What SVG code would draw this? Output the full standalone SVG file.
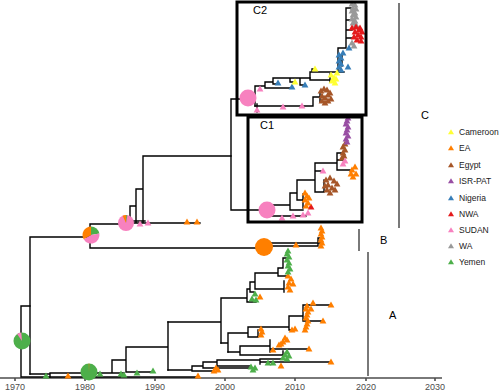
<svg xmlns="http://www.w3.org/2000/svg" xmlns:xlink="http://www.w3.org/1999/xlink" width="500" height="391" viewBox="0 0 500 391">
<style>
.br{fill:none;stroke:#000;stroke-width:1.4;stroke-linecap:square}
.box{fill:none;stroke:#000;stroke-width:3}
.bar{stroke:#4d4d4d;stroke-width:1.5}
.ax{stroke:#4d4d4d;stroke-width:1.6}
.tk{font-family:"Liberation Sans",Arial,sans-serif;font-size:9px;fill:#4d4d4d;text-anchor:middle}
.lb{font-family:"Liberation Sans",Arial,sans-serif;font-size:11px;fill:#000}
.lg{font-family:"Liberation Sans",Arial,sans-serif;font-size:8.5px;fill:#1a1a1a}
.cm{fill:#FFFF33}.ea{fill:#FF7F00}.eg{fill:#A65628}.ip{fill:#984EA3}.ng{fill:#377EB8}
.nw{fill:#E41A1C}.sd{fill:#F781BF}.wa{fill:#999999}.ye{fill:#4DAF4A}
</style>
<defs>
<path id="t" d="M0,-3.4 L3.4,2.5 L-3.4,2.5 Z"/>
<path id="tl" d="M0,-2.8 L3,2.2 L-3,2.2 Z"/>
</defs>

<!-- axis -->
<g id="axis">
<line class="ax" x1="0" y1="378" x2="442" y2="378"/>
<g class="ax">
<line x1="15" y1="378" x2="15" y2="381"/><line x1="85" y1="378" x2="85" y2="381"/>
<line x1="155" y1="378" x2="155" y2="381"/><line x1="225" y1="378" x2="225" y2="381"/>
<line x1="295" y1="378" x2="295" y2="381"/><line x1="366" y1="378" x2="366" y2="381"/>
<line x1="435" y1="378" x2="435" y2="381"/>
</g>
<text class="tk" x="15" y="390">1970</text><text class="tk" x="85" y="390">1980</text>
<text class="tk" x="155" y="390">1990</text><text class="tk" x="225" y="390">2000</text>
<text class="tk" x="295" y="390">2010</text><text class="tk" x="366" y="390">2020</text>
<text class="tk" x="435" y="390">2030</text>
</g>

<!-- clade bars -->
<g id="clade-bars">
<line class="bar" x1="399" y1="3" x2="399" y2="228"/>
<text class="lb" x="421" y="119">C</text>
<line class="bar" x1="359" y1="229" x2="359" y2="251"/>
<text class="lb" x="380" y="244">B</text>
<line class="bar" x1="368" y1="252" x2="368" y2="376"/>
<text class="lb" x="389" y="319">A</text>
</g>

<!-- connectors (tree branches) -->
<g id="connectors" class="br">
<path d="M21,306 V377 M21,306 H30 M21,377 H197"/>
<path d="M30,237 V374 M30,237 H91 M90,224 V248 M90,224 H126 M90,248 H264"/>
<path d="M126,223 H200 M126,221 H145 M130,223 V206 H136 V189 H143 V156 H231 M136,206 V223 M143,189 V223"/>
<path d="M231,99 V210 M231,99 H248 M231,210 H267"/>
<!-- B -->
<path d="M264,243 H318 M264,246 H318 M318,238 V246 M318,238 H321 M318,243 H321"/>
<!-- C2 -->
<path d="M255,86 V106 M255,86 H265 M265,82 V88 M265,88 H292 M265,82 H273 M273,78 V84 M273,84 H278 M273,78 H310 M290,78 V82 H295 M300,78 V85 H305"/>
<path d="M310,72 V80 M310,80 H330 M330,74 V82 M310,72 H338 M312,72 V69 H315 M338,48 V72 M338,72 H344 M338,60 H342 M338,48 H346 M346,8 V48 M346,38 H352 M346,30 H352 M346,8 H352 M346,20 H351 M342,55 V66"/>
<path d="M255,106 H313 M313,97 V106 M313,97 H320 M320,92 V102 M257,104 V112"/>
<!-- C1 -->
<path d="M267,205 H290 M290,193 V210 M290,210 H303 M303,194 V208 M267,216 H306 M290,193 H297 M297,180 V200 M297,200 H303 M297,180 H315 M315,163 V192 M315,192 H324 M324,180 V192 M315,171 H321 M315,163 H337 M337,153 V170 M337,170 H350 M337,153 H343 M337,160 H343"/>
<!-- A lower -->
<path d="M30,374 H50 V377 M50,373 H112 M112,360 V373 M112,373 H124 M112,360 H126 M126,347 V372 M126,372 H153 M126,347 H168 M168,322 V370"/>
<path d="M168,370 H192 M192,366 V371 M192,371 H214 M192,366 H203 M203,362 V368 M203,368 H250 M203,362 H217 M217,360 V366 M217,366 H250 M217,360 H260 M260,359 V364 M260,362 H331 M260,359 H283"/>
<!-- A upper -->
<path d="M168,322 H221 M221,298 V343 M221,298 H247 M247,289 V302 M247,302 H256 M247,289 H250 M250,282 V292 M250,292 H254 M250,282 H255 M255,273 V289 M255,289 H284 M284,281 V292 M255,273 H278 M278,268 V276 M278,276 H287 M278,268 H283 M283,258 V268 M283,258 H287"/>
<path d="M221,343 H228 M228,333 V352 M228,333 H248 M248,327 V337 M248,337 H258 M258,330 V337 M248,327 H289 M289,316 V330 M289,330 H292 M289,316 H303 M303,305 V321 M303,305 H330 M303,321 H323"/>
<path d="M228,352 H240 M240,346 V355 M240,346 H270 M270,340 V352 M270,349 H308 M240,355 H283 M283,351 V358"/>
</g>

<!-- pies (ancestral state nodes) -->
<g id="pie-root">
<circle cx="22" cy="341" r="8.5" class="ye"/>
<path class="sd" d="M22,341 L17.12,334.04 A8.5,8.5 0 0 1 21.26,332.53 Z"/>
</g>
<g id="pie-n2">
<path class="ye" d="M91,235 L91,226.5 A8.5,8.5 0 0 1 99.37,233.52 Z"/>
<path class="sd" d="M91,235 L99.37,233.52 A8.5,8.5 0 0 1 83.64,239.25 Z"/>
<path class="ea" d="M91,235 L83.64,239.25 A8.5,8.5 0 0 1 91,226.5 Z"/>
</g>
<g id="pie-n3">
<circle cx="126" cy="223" r="8" class="sd"/>
<path class="ea" d="M126,223 L122.62,215.75 A8,8 0 0 1 126.28,215 Z"/>
<path class="ye" d="M126,223 L126.28,215 A8,8 0 0 1 127.39,215.12 Z"/>
</g>
<g id="pie-a1">
<circle cx="89" cy="372" r="8.5" class="ye"/>
<path class="ea" d="M89,372 L88.7,363.5 A8.5,8.5 0 0 1 89.3,363.5 Z"/>
</g>
<g id="pie-b"><circle cx="264" cy="247" r="9" class="ea"/></g>
<g id="pie-c2"><circle cx="248" cy="98" r="8.5" class="sd"/></g>
<g id="pie-c1"><circle cx="267" cy="210" r="8.5" class="sd"/></g>

<!-- tips -->
<g id="tips-wa" class="wa">
<use href="#t" x="352" y="4"/><use href="#t" x="355" y="5"/><use href="#t" x="353" y="8"/><use href="#t" x="356" y="9"/>
<use href="#t" x="352" y="11"/><use href="#t" x="355" y="13"/><use href="#t" x="353" y="15"/><use href="#t" x="356" y="17"/>
<use href="#t" x="352" y="19"/><use href="#t" x="355" y="21"/><use href="#t" x="353" y="23"/><use href="#t" x="356" y="25"/>
<use href="#t" x="352" y="43"/><use href="#t" x="354" y="46"/>
</g>
<g id="tips-nwa" class="nw">
<use href="#t" x="352" y="28"/><use href="#t" x="356" y="27"/><use href="#t" x="359" y="30"/><use href="#t" x="362" y="32"/>
<use href="#t" x="355" y="32"/><use href="#t" x="358" y="35"/><use href="#t" x="361" y="37"/><use href="#t" x="354" y="37"/>
<use href="#t" x="357" y="40"/><use href="#t" x="361" y="41"/><use href="#t" x="360" y="28"/><use href="#t" x="311" y="207"/>
</g>
<g id="tips-ng" class="ng">
<use href="#t" x="339" y="55"/><use href="#t" x="341" y="58"/><use href="#t" x="339" y="61"/><use href="#t" x="341" y="64"/>
<use href="#t" x="339" y="67"/><use href="#t" x="341" y="70"/><use href="#t" x="348" y="67"/><use href="#t" x="349" y="48"/>
<use href="#t" x="278" y="83"/><use href="#t" x="292" y="87"/><use href="#t" x="305" y="85"/><use href="#t" x="343" y="53"/>
</g>
<g id="tips-cm" class="cm">
<use href="#t" x="315" y="69"/><use href="#t" x="295" y="82"/><use href="#t" x="331" y="75"/><use href="#t" x="334" y="78"/>
<use href="#t" x="332" y="81"/><use href="#t" x="335" y="83"/><use href="#t" x="337" y="73"/><use href="#t" x="336" y="79"/>
</g>
<g id="tips-eg" class="eg">
<use href="#t" x="321" y="91"/><use href="#t" x="324" y="89"/><use href="#t" x="327" y="90"/><use href="#t" x="330" y="93"/>
<use href="#t" x="322" y="96"/><use href="#t" x="325" y="98"/><use href="#t" x="328" y="95"/><use href="#t" x="331" y="99"/>
<use href="#t" x="322" y="101"/><use href="#t" x="325" y="103"/><use href="#t" x="328" y="101"/>
<use href="#t" x="345" y="144"/><use href="#t" x="343" y="147"/><use href="#t" x="345" y="150"/><use href="#t" x="343" y="153"/>
<use href="#t" x="344" y="156"/><use href="#t" x="342" y="158"/>
<use href="#t" x="326" y="180"/><use href="#t" x="330" y="178"/><use href="#t" x="334" y="181"/><use href="#t" x="337" y="184"/>
<use href="#t" x="328" y="185"/><use href="#t" x="332" y="188"/><use href="#t" x="335" y="190"/><use href="#t" x="327" y="190"/>
<use href="#t" x="330" y="193"/><use href="#t" x="325" y="186"/>
</g>
<g id="tips-ip" class="ip">
<use href="#t" x="348" y="118"/><use href="#t" x="347" y="121"/><use href="#t" x="346" y="124"/><use href="#t" x="348" y="127"/>
<use href="#t" x="347" y="130"/><use href="#t" x="346" y="133"/><use href="#t" x="348" y="136"/><use href="#t" x="346" y="139"/>
<use href="#t" x="347" y="142"/>
</g>
<g id="tips-sd" class="sd">
<use href="#t" x="260" y="89"/><use href="#t" x="283" y="107"/><use href="#t" x="302" y="106"/><use href="#t" x="257" y="110"/>
<use href="#t" x="345" y="161"/><use href="#t" x="343" y="164"/><use href="#t" x="323" y="171"/>
<use href="#t" x="282" y="218"/><use href="#t" x="293" y="216"/><use href="#t" x="303" y="215"/><use href="#t" x="308" y="213"/>
<use href="#t" x="140" y="224"/><use href="#t" x="148" y="223"/>
</g>
<g id="tips-ea" class="ea">
<use href="#t" x="352" y="170"/><use href="#t" x="355" y="167"/><use href="#t" x="351" y="174"/><use href="#t" x="356" y="174"/>
<use href="#t" x="353" y="177"/>
<use href="#t" x="305" y="193"/><use href="#t" x="307" y="196"/><use href="#t" x="305" y="200"/><use href="#t" x="308" y="203"/>
<use href="#t" x="306" y="206"/><use href="#t" x="309" y="198"/>
<use href="#t" x="187" y="222"/><use href="#t" x="197" y="222"/>
<use href="#t" x="321" y="228"/><use href="#t" x="322" y="231"/><use href="#t" x="321" y="234"/><use href="#t" x="322" y="237"/>
<use href="#t" x="321" y="240"/><use href="#t" x="322" y="243"/><use href="#t" x="321" y="246"/><use href="#t" x="296" y="245"/>
<use href="#t" x="288" y="276"/><use href="#t" x="291" y="279"/><use href="#t" x="289" y="283"/><use href="#t" x="293" y="284"/>
<use href="#t" x="288" y="287"/><use href="#t" x="290" y="290"/><use href="#t" x="260" y="297"/>
<use href="#t" x="261" y="329"/><use href="#t" x="262" y="332"/><use href="#t" x="261" y="335"/>
<use href="#t" x="292" y="330"/><use href="#t" x="295" y="329"/><use href="#t" x="331" y="305"/><use href="#t" x="323" y="321"/>
<use href="#t" x="307" y="306"/><use href="#t" x="306" y="309"/><use href="#t" x="308" y="312"/><use href="#t" x="307" y="315"/>
<use href="#t" x="306" y="318"/><use href="#t" x="308" y="321"/><use href="#t" x="307" y="324"/><use href="#t" x="306" y="327"/>
<use href="#t" x="305" y="330"/><use href="#t" x="313" y="303"/><use href="#t" x="311" y="309"/>
<use href="#t" x="273" y="350"/><use href="#t" x="279" y="345"/><use href="#t" x="283" y="342"/><use href="#t" x="287" y="340"/>
<use href="#t" x="285" y="338"/><use href="#t" x="281" y="344"/><use href="#t" x="309" y="349"/>
<use href="#t" x="331" y="362"/><use href="#t" x="281" y="366"/>
<use href="#t" x="214" y="371"/><use href="#t" x="218" y="370"/><use href="#t" x="216" y="368"/>
<use href="#t" x="198" y="376"/><use href="#t" x="68" y="376"/>
</g>
<g id="tips-ye" class="ye">
<use href="#t" x="288" y="251"/><use href="#t" x="287" y="254"/><use href="#t" x="289" y="257"/><use href="#t" x="287" y="260"/>
<use href="#t" x="289" y="263"/><use href="#t" x="288" y="266"/><use href="#t" x="290" y="269"/><use href="#t" x="288" y="272"/>
<use href="#t" x="255" y="294"/><use href="#t" x="256" y="300"/><use href="#t" x="252" y="299"/>
<use href="#t" x="287" y="352"/><use href="#t" x="285" y="355"/><use href="#t" x="289" y="356"/><use href="#t" x="287" y="359"/>
<use href="#t" x="283" y="358"/><use href="#t" x="268" y="363"/><use href="#t" x="273" y="363"/>
<use href="#t" x="251" y="367"/><use href="#t" x="255" y="368"/><use href="#t" x="253" y="370"/>
<use href="#t" x="46" y="376"/><use href="#t" x="100" y="374"/><use href="#t" x="121" y="374"/><use href="#t" x="124" y="375"/>
<use href="#t" x="137" y="373"/><use href="#t" x="153" y="371"/>
</g>

<!-- clade boxes -->
<g id="box-c2">
<rect class="box" x="237" y="2" width="129" height="113"/>
<text class="lb" x="253" y="14">C2</text>
</g>
<g id="box-c1">
<rect class="box" x="248" y="117" width="114" height="105"/>
<text class="lb" x="260" y="129">C1</text>
</g>

<!-- legend -->
<g id="legend">
<use href="#tl" x="451" y="132" class="cm"/><text class="lg" x="459" y="135">Cameroon</text>
<use href="#tl" x="451" y="148" class="ea"/><text class="lg" x="459" y="151">EA</text>
<use href="#tl" x="451" y="165" class="eg"/><text class="lg" x="459" y="168">Egypt</text>
<use href="#tl" x="451" y="181" class="ip"/><text class="lg" x="459" y="184">ISR-PAT</text>
<use href="#tl" x="451" y="198" class="ng"/><text class="lg" x="459" y="201">Nigeria</text>
<use href="#tl" x="451" y="214" class="nw"/><text class="lg" x="459" y="217">NWA</text>
<use href="#tl" x="451" y="230" class="sd"/><text class="lg" x="459" y="233">SUDAN</text>
<use href="#tl" x="451" y="246" class="wa"/><text class="lg" x="459" y="249">WA</text>
<use href="#tl" x="451" y="262" class="ye"/><text class="lg" x="459" y="265">Yemen</text>
</g>
</svg>
